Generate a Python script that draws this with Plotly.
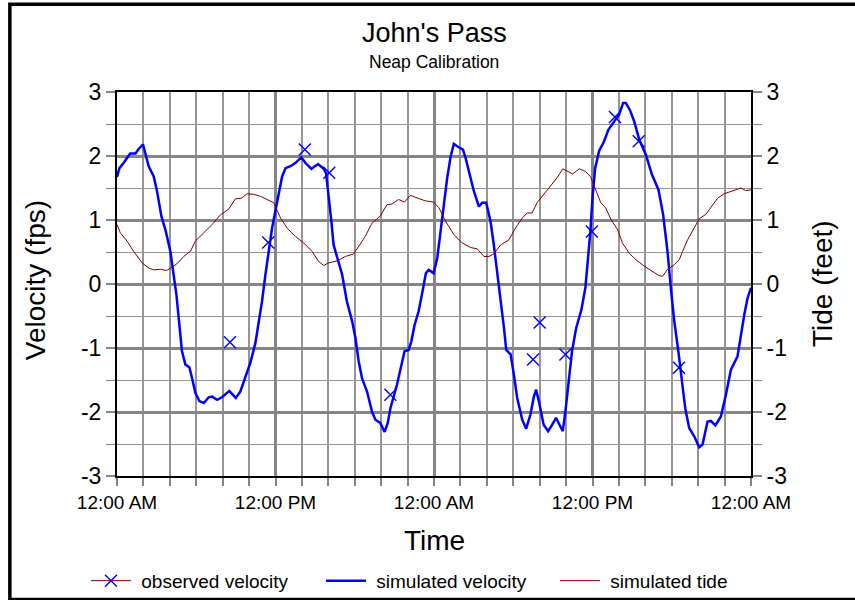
import plotly.graph_objects as go

# ---------------- data (hours from 12:00 AM) ----------------
vel_hours = [0, 0.18, 0.5, 1.0, 1.4, 1.64, 1.97, 2.15, 2.4, 2.78,
             3.03, 3.36, 3.7, 4.04, 4.3, 4.5, 4.67, 4.92, 5.18, 5.48,
             5.68, 5.93, 6.24, 6.57, 6.94, 7.2, 7.58, 7.95, 8.5, 9.0,
             9.34, 9.67, 10.1, 10.48, 10.7, 10.98, 11.24, 11.5, 11.74, 12.0,
             12.25, 12.5, 12.76, 13.13, 13.5, 13.96, 14.27, 14.72, 15.22, 15.65,
             15.83, 16.03, 16.23, 16.4, 16.66, 17.04, 17.4, 17.8, 18.05, 18.3,
             18.55, 18.93, 19.3, 19.56, 19.93, 20.26, 20.5, 20.7, 21.2, 21.52,
             21.77, 22.08, 22.28, 22.53, 22.83, 23.08, 23.39, 23.6, 23.97, 24.25,
             24.5, 24.76, 25.0, 25.26, 25.5, 25.84, 26.19, 26.39, 26.7, 27.02,
             27.4, 27.65, 27.95, 28.28, 28.53, 28.79, 29.04, 29.3, 29.47, 29.8,
             30.05, 30.3, 30.68, 30.98, 31.3, 31.56, 31.73, 31.94, 32.3, 32.64,
             32.94, 33.24, 33.5, 33.75, 33.95, 34.2, 34.45, 34.76, 35.16, 35.46,
             35.66, 35.84, 36.0, 36.2, 36.5, 36.88, 37.2, 37.64, 38.02, 38.32,
             38.52, 38.83, 39.16, 39.53, 40.04, 40.5, 41.0, 41.35, 41.68, 41.93,
             42.19, 42.5, 42.77, 43.02, 43.32, 43.7, 44.08, 44.33, 44.71, 44.96,
             45.3, 45.72, 46.1, 46.48, 46.98, 47.24, 47.49, 47.74, 48.0]
vel_values = [1.67, 1.81, 1.89, 2.04, 2.04, 2.11, 2.18, 2.05, 1.84, 1.68,
              1.45, 1.06, 0.82, 0.51, 0.15, -0.17, -0.53, -1.05, -1.26, -1.30,
              -1.47, -1.70, -1.83, -1.86, -1.77, -1.76, -1.81, -1.77, -1.67, -1.78,
              -1.68, -1.47, -1.23, -0.92, -0.64, -0.27, 0.15, 0.56, 0.875, 1.15,
              1.40, 1.68, 1.81, 1.84, 1.89, 1.98, 1.89, 1.80, 1.875, 1.80,
              1.73, 1.40, 0.98, 0.61, 0.41, 0.15, -0.27, -0.58, -0.84, -1.21,
              -1.47, -1.68, -1.99, -2.12, -2.17, -2.31, -2.17, -1.94, -1.57, -1.26,
              -1.05, -1.03, -0.90, -0.64, -0.43, -0.17, 0.17, 0.22, 0.17, 0.41,
              0.82, 1.29, 1.66, 1.99, 2.19, 2.14, 2.10, 1.97, 1.71, 1.45,
              1.21, 1.27, 1.27, 0.98, 0.61, 0.20, -0.27, -0.69, -1.03, -1.10,
              -1.42, -1.78, -2.12, -2.26, -2.04, -1.76, -1.65, -1.83, -2.20, -2.30,
              -2.20, -2.09, -2.20, -2.30, -1.99, -1.52, -1.05, -0.69, -0.40, -0.06,
              0.35, 0.82, 1.35, 1.81, 2.08, 2.23, 2.41, 2.54, 2.65, 2.83,
              2.83, 2.72, 2.54, 2.26, 2.02, 1.71, 1.47, 1.08, 0.51, -0.06,
              -0.58, -1.05, -1.47, -1.94, -2.25, -2.38, -2.55, -2.51, -2.15, -2.14,
              -2.21, -2.07, -1.73, -1.34, -1.13, -0.79, -0.48, -0.22, -0.06]

tide_hours = [0, 0.25, 0.76, 1.26, 1.9, 2.4, 2.78, 3.28, 3.74, 4.17,
              4.67, 5.05, 5.56, 5.93, 6.57, 7.2, 7.83, 8.46, 8.96, 9.42,
              9.85, 10.35, 10.86, 11.36, 11.87, 12.38, 12.88, 13.5, 14.14, 14.77,
              15.27, 15.65, 16.03, 16.66, 17.29, 17.92, 18.3, 18.8, 19.3, 19.93,
              20.44, 20.82, 21.32, 21.77, 22.2, 22.7, 23.33, 23.96, 24.38, 24.88,
              25.51, 26.14, 26.77, 27.27, 27.78, 28.16, 28.53, 29.04, 29.67, 30.17,
              30.68, 31.05, 31.43, 31.8, 32.31, 32.82, 33.32, 33.75, 34.08, 34.5,
              35.0, 35.46, 35.84, 36.09, 36.34, 36.63, 37.0, 37.39, 37.9, 38.27,
              38.78, 39.28, 39.91, 40.55, 41.0, 41.3, 41.68, 42.19, 42.57, 42.82,
              43.2, 43.7, 44.08, 44.59, 45.1, 45.47, 45.97, 46.6, 47.24, 47.6,
              48.0]
tide_values = [0.93, 0.80, 0.67, 0.51, 0.33, 0.25, 0.22, 0.23, 0.21, 0.26,
               0.34, 0.43, 0.51, 0.67, 0.80, 0.93, 1.08, 1.17, 1.33, 1.34,
               1.41, 1.40, 1.37, 1.32, 1.27, 1.03, 0.875, 0.745, 0.64, 0.51,
               0.35, 0.29, 0.33, 0.36, 0.43, 0.47, 0.59, 0.745, 0.95, 1.06,
               1.24, 1.25, 1.32, 1.28, 1.385, 1.35, 1.30, 1.28, 1.19, 0.98,
               0.77, 0.64, 0.57, 0.55, 0.43, 0.43, 0.47, 0.61, 0.69, 0.875,
               1.03, 1.11, 1.11, 1.27, 1.40, 1.53, 1.66, 1.80, 1.77, 1.72,
               1.80, 1.76, 1.68, 1.55, 1.42, 1.27, 1.19, 1.01, 0.85, 0.64,
               0.48, 0.38, 0.28, 0.20, 0.135, 0.12, 0.23, 0.30, 0.38, 0.51,
               0.69, 0.875, 1.02, 1.09, 1.24, 1.34, 1.41, 1.46, 1.50, 1.46,
               1.47]

obs_hours = [8.55, 11.45, 14.22, 16.07, 20.7, 31.5, 32.0, 33.95, 35.95, 37.7, 39.5, 42.55]
obs_values = [-0.91, 0.65, 2.10, 1.74, -1.73, -1.18, -0.60, -1.10, 0.82, 2.61, 2.23, -1.31]

x_tick_hours = [0, 12, 24, 36, 48]
x_tick_labels = ["12:00 AM", "12:00 PM", "12:00 AM", "12:00 PM", "12:00 AM"]
y_tick_values = [-3, -2, -1, 0, 1, 2, 3]
y_tick_labels = ["-3", "-2", "-1", "0", "1", "2", "3"]

series_names = ["observed velocity", "simulated velocity", "simulated tide"]

# ---------------- styling ----------------
FONT = "Arial, 'Liberation Sans', sans-serif"
BLUE = "#0000FF"
BROWN = "#800000"
GRID = "#858585"
GRID_MINOR = "#959595"
GAP = "\u00a0"  # small gap between legend symbol and label

# observed points: separated by gaps so the (brown) legend line never draws
obs_x, obs_y = [], []
for h, v in zip(obs_hours, obs_values):
    obs_x += [h, None]
    obs_y += [v, None]

fig = go.Figure()
fig.add_trace(go.Scatter(
    x=obs_x, y=obs_y, mode="lines+markers", name=GAP + series_names[0],
    connectgaps=False, legend="legend",
    line=dict(color=BROWN, width=1),
    marker=dict(symbol="x-thin", size=12, color=BLUE, line=dict(color=BLUE, width=1.4)),
))
fig.add_trace(go.Scatter(
    x=vel_hours, y=vel_values, mode="lines", name=GAP + series_names[1],
    legend="legend2",
    line=dict(color=BLUE, width=2.5),
))
fig.add_trace(go.Scatter(
    x=tide_hours, y=tide_values, mode="lines", name=GAP + series_names[2],
    legend="legend3",
    line=dict(color=BROWN, width=1), yaxis="y2",
))

common_y = dict(
    range=[-3, 3], tickmode="array", tickvals=y_tick_values, ticktext=y_tick_labels,
    ticks="outside", ticklen=9, tickwidth=2, tickcolor=GRID,
    zeroline=False, showline=True, linecolor="black", linewidth=2,
    tickfont=dict(size=23, family=FONT, color="black"),
    fixedrange=True,
)


def legend_at(px_left):
    return dict(
        orientation="h", xref="container", yref="container",
        x=px_left / 855, y=0.032, xanchor="left", yanchor="middle",
        font=dict(size=19, family=FONT, color="black"),
        itemwidth=40, bgcolor="rgba(0,0,0,0)",
    )


fig.update_layout(
    width=855, height=600,
    margin=dict(l=117, r=104, t=92, b=124),
    paper_bgcolor="white", plot_bgcolor="white",
    font=dict(family=FONT, color="black"),
    showlegend=True,
    legend=legend_at(86),
    legend2=legend_at(321),
    legend3=legend_at(555),
    xaxis=dict(
        range=[0, 48], tickmode="array", tickvals=x_tick_hours, ticktext=x_tick_labels,
        ticks="outside", ticklen=8, tickwidth=2, tickcolor=GRID,
        showgrid=True, gridcolor=GRID, gridwidth=2.5,
        zeroline=False, showline=True, linecolor="black", linewidth=2, mirror=True,
        tickfont=dict(size=19, family=FONT, color="black"),
        minor=dict(tick0=0, dtick=2, ticks="outside", ticklen=8, tickwidth=1.5,
                   tickcolor=GRID, showgrid=True, gridcolor=GRID_MINOR, gridwidth=1.6),
        fixedrange=True,
    ),
    yaxis=dict(
        **common_y, mirror=True,
        showgrid=True, gridcolor=GRID, gridwidth=2.5,
        minor=dict(tick0=0, dtick=0.5, ticks="outside", ticklen=9, tickwidth=1,
                   tickcolor=GRID, showgrid=True, gridcolor=GRID_MINOR, gridwidth=1.3),
    ),
    yaxis2=dict(
        **common_y, overlaying="y", side="right", showgrid=False,
        minor=dict(tick0=0, dtick=0.5, ticks="outside", ticklen=9, tickwidth=1,
                   tickcolor=GRID),
    ),
    shapes=[dict(type="rect", xref="paper", yref="paper",
                 x0=-0.169, x1=1.25, y0=-0.3215, y1=1.2285,
                 line=dict(color="black", width=3.5), fillcolor="rgba(0,0,0,0)",
                 layer="above")],
    annotations=[
        dict(text="John's Pass", xref="paper", yref="paper", x=0.5, y=1.1536,
             xanchor="center", yanchor="middle", showarrow=False,
             font=dict(size=27, family=FONT, color="black")),
        dict(text="Neap Calibration", xref="paper", yref="paper", x=0.5, y=1.078,
             xanchor="center", yanchor="middle", showarrow=False,
             font=dict(size=17.5, family=FONT, color="black")),
        dict(text="Velocity (fps)", xref="paper", yref="paper", x=-0.1293, y=0.51,
             xanchor="center", yanchor="middle", showarrow=False, textangle=-90,
             font=dict(size=28, family=FONT, color="black")),
        dict(text="Tide (feet)", xref="paper", yref="paper", x=1.112, y=0.5,
             xanchor="center", yanchor="middle", showarrow=False, textangle=-90,
             font=dict(size=28, family=FONT, color="black")),
        dict(text="Time", xref="paper", yref="paper", x=0.5, y=-0.169,
             xanchor="center", yanchor="middle", showarrow=False,
             font=dict(size=28, family=FONT, color="black")),
    ],
)

fig.write_html("out.html")
